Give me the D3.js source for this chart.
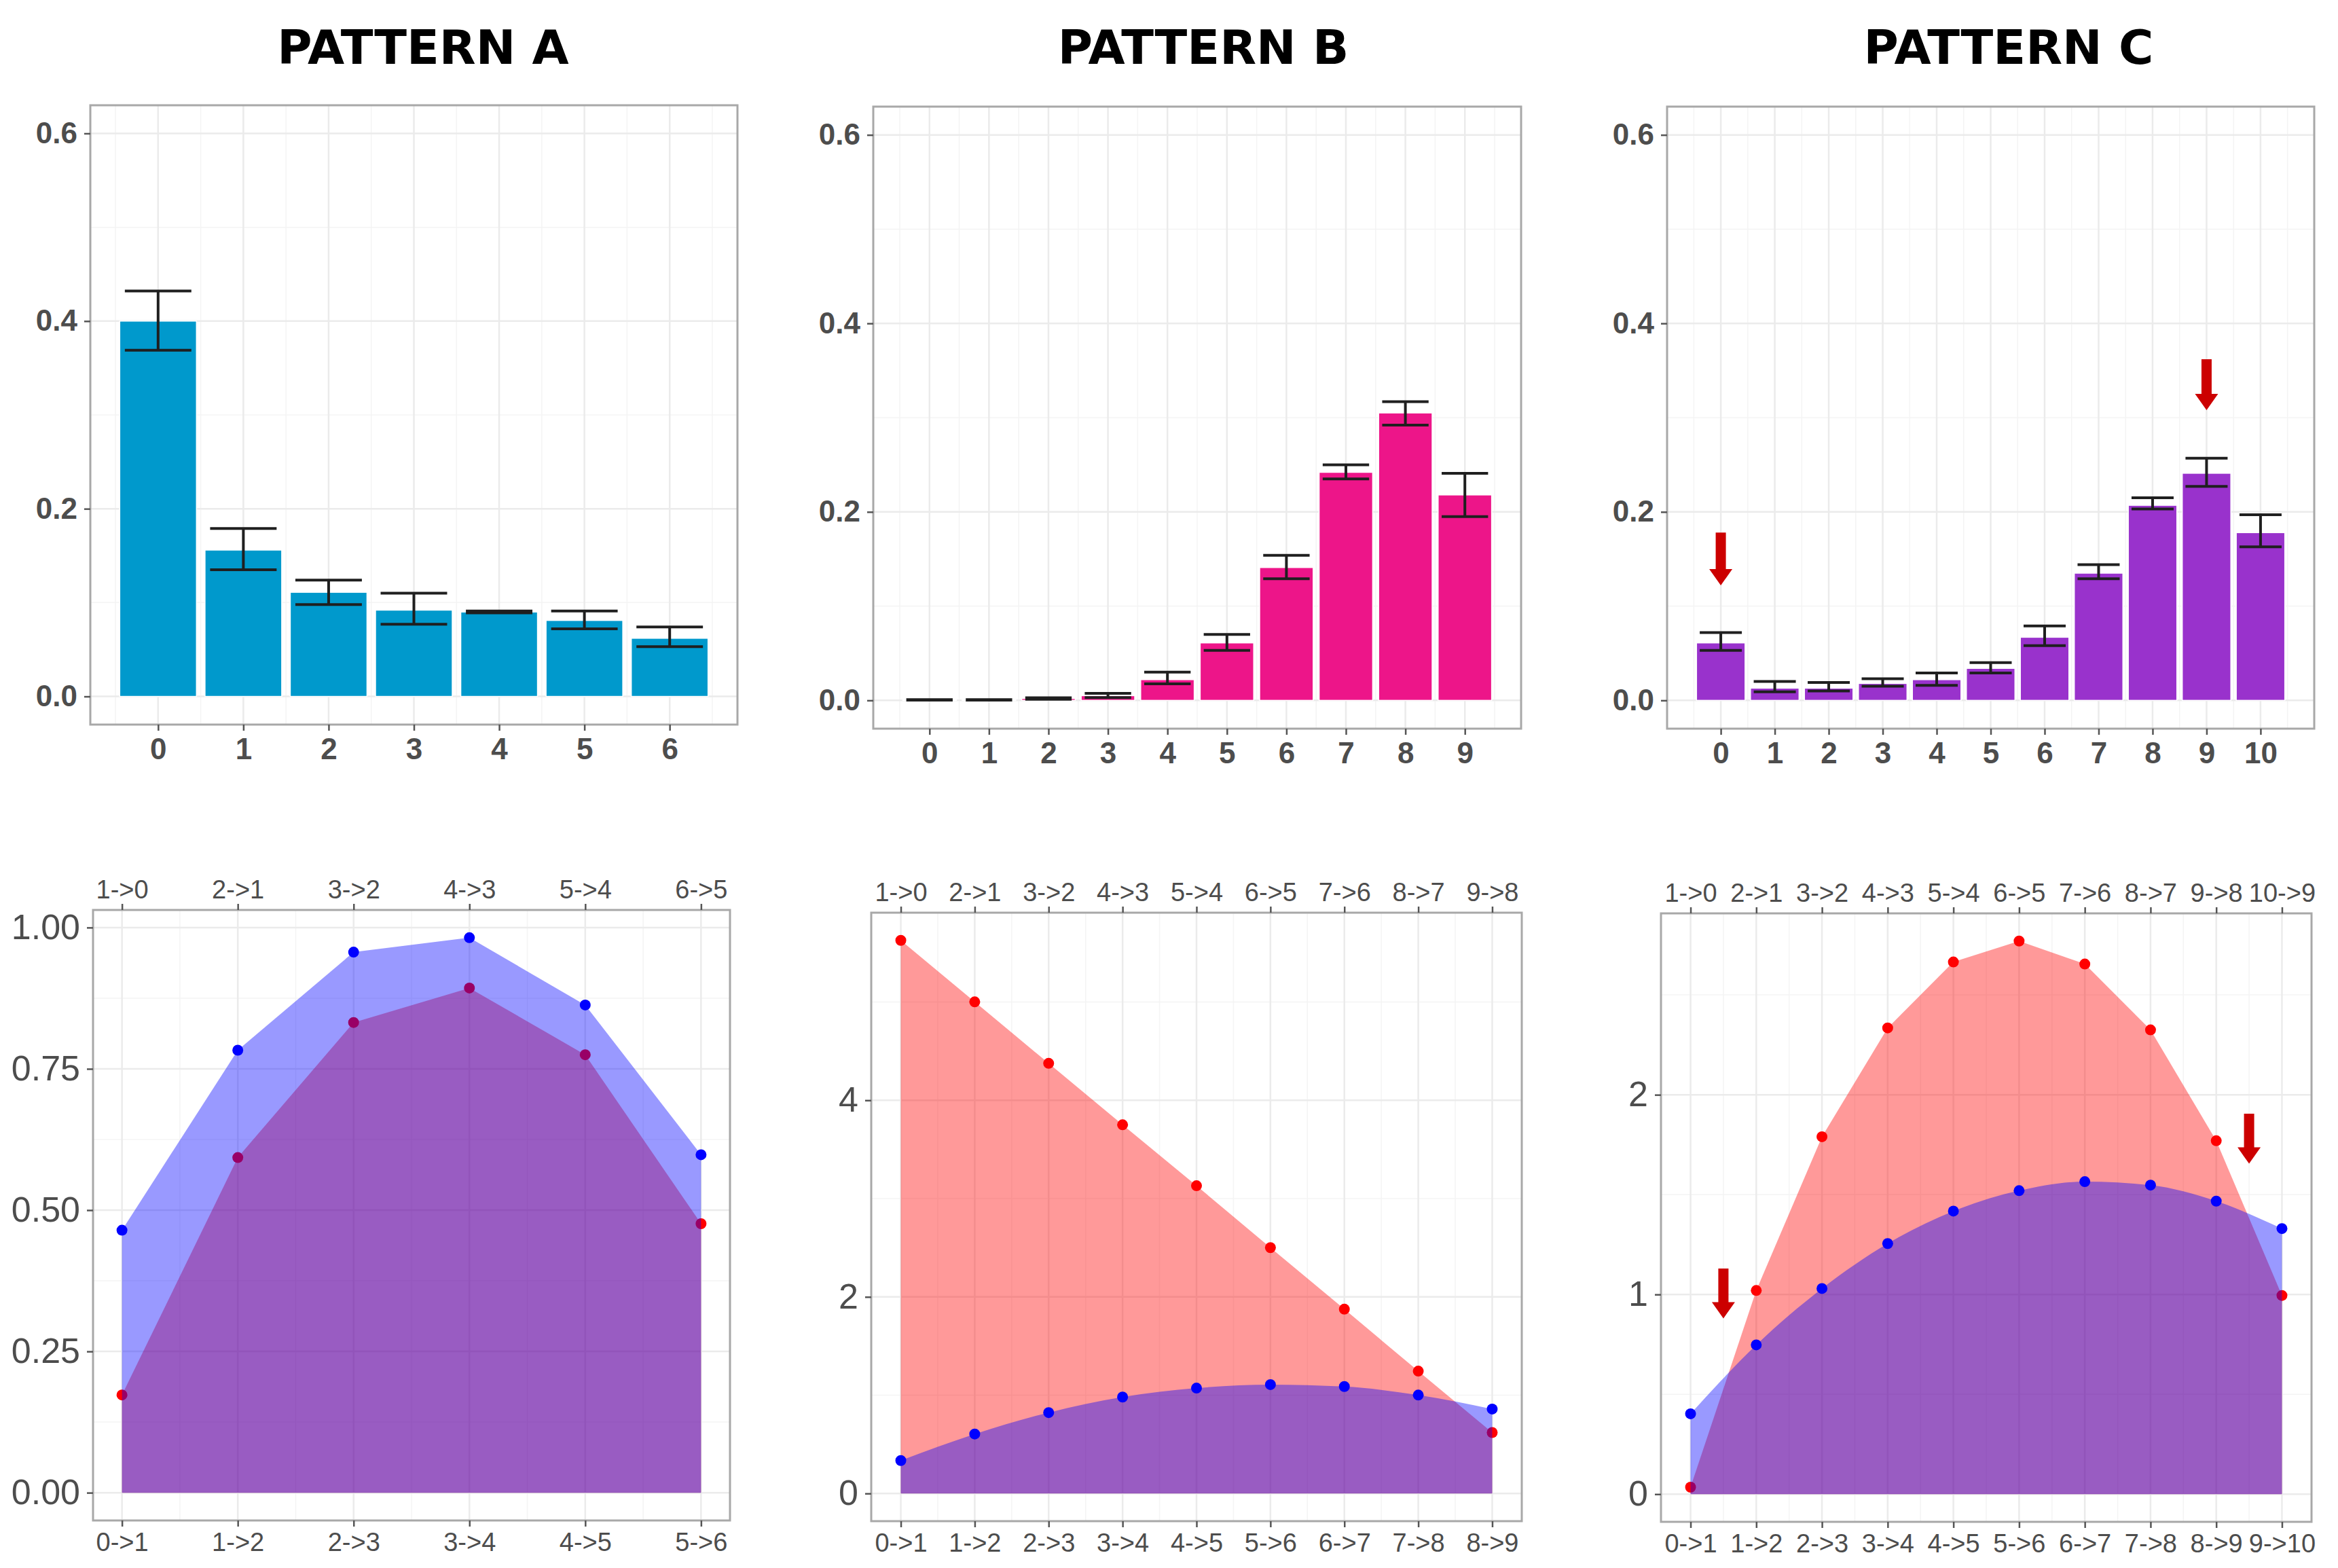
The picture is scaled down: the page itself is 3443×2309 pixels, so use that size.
<!DOCTYPE html>
<html><head><meta charset="utf-8">
<script src="https://cdn.jsdelivr.net/npm/d3@7"></script>
<style>body{margin:0;background:#fff}svg{display:block}</style>
</head><body>
<svg id="c" width="3443" height="2309"></svg>
<script>
// ---------- DATA ----------
const titles = ["PATTERN A", "PATTERN B", "PATTERN C"];

const catsA = [0, 1, 2, 3, 4, 5, 6];
const meanA = [0.400, 0.156, 0.111, 0.092, 0.090, 0.081, 0.062];
const loA   = [0.369, 0.135, 0.098, 0.077, 0.089, 0.072, 0.053];
const hiA   = [0.432, 0.179, 0.124, 0.110, 0.091, 0.091, 0.074];

const catsB = [0, 1, 2, 3, 4, 5, 6, 7, 8, 9];
const meanB = [0.0005, 0.0005, 0.002, 0.005, 0.022, 0.061, 0.141, 0.242, 0.305, 0.218];
const loB   = [0.0002, 0.0002, 0.0012, 0.003, 0.0175, 0.053, 0.129, 0.235, 0.292, 0.195];
const hiB   = [0.0008, 0.0008, 0.0028, 0.0074, 0.030, 0.070, 0.154, 0.250, 0.317, 0.241];

const catsC = [0, 1, 2, 3, 4, 5, 6, 7, 8, 9, 10];
const meanC = [0.061, 0.013, 0.013, 0.018, 0.022, 0.034, 0.067, 0.135, 0.207, 0.241, 0.178];
const loC   = [0.053, 0.009, 0.010, 0.015, 0.016, 0.029, 0.058, 0.129, 0.203, 0.227, 0.163];
const hiC   = [0.072, 0.020, 0.019, 0.023, 0.029, 0.040, 0.079, 0.144, 0.215, 0.257, 0.197];

const barYTicks = [0, 0.2, 0.4, 0.6];
const barYMinor = [0.1, 0.3, 0.5];

const topLabA = ["1->0", "2->1", "3->2", "4->3", "5->4", "6->5"];
const botLabA = ["0->1", "1->2", "2->3", "3->4", "4->5", "5->6"];
const redA  = [0.173, 0.593, 0.832, 0.893, 0.775, 0.476];
const blueA = [0.4645, 0.783, 0.9565, 0.982, 0.863, 0.598];

const topLabB = ["1->0", "2->1", "3->2", "4->3", "5->4", "6->5", "7->6", "8->7", "9->8"];
const botLabB = ["0->1", "1->2", "2->3", "3->4", "4->5", "5->6", "6->7", "7->8", "8->9"];
const redB  = [5.627, 5.001, 4.376, 3.751, 3.131, 2.501, 1.875, 1.245, 0.620];
const blueB = [0.335, 0.605, 0.823, 0.981, 1.072, 1.108, 1.088, 1.001, 0.859];

const topLabC = ["1->0", "2->1", "3->2", "4->3", "5->4", "6->5", "7->6", "8->7", "9->8", "10->9"];
const botLabC = ["0->1", "1->2", "2->3", "3->4", "4->5", "5->6", "6->7", "7->8", "8->9", "9->10"];
const redC  = [0.035, 1.02, 1.79, 2.335, 2.665, 2.77, 2.655, 2.325, 1.77, 0.995];
const blueC = [0.4025, 0.7475, 1.03, 1.255, 1.4175, 1.52, 1.565, 1.5475, 1.4675, 1.33];

const yTicksA = [0, 0.25, 0.5, 0.75, 1.0];
const yMinorA = [0.125, 0.375, 0.625, 0.875];
const yTicksB = [0, 2, 4];
const yMinorB = [1, 3, 5];
const yTicksC = [0, 1, 2];
const yMinorC = [0.5, 1.5, 2.5];

// annotation arrows (x position, top of shaft, tip) in data units
const arrowsTopC = [{x: 0, top: 0.178, tip: 0.122}, {x: 9, top: 0.362, tip: 0.308}];
const arrowsBotC = [{x: 0.5, top: 1.13, tip: 0.88}, {x: 8.5, top: 1.905, tip: 1.655}];

// ---------- LAYOUT / STYLE ----------
const topRects = [{l:133,t:155,r:1086,b:1067},{l:1286,t:157,r:2240,b:1073},{l:2455,t:157,r:3408,b:1073}];
const botRects = [{l:137,t:1340,r:1075,b:2239},{l:1283,t:1344,r:2241,b:2240},{l:2446,t:1345,r:3404,b:2241}];
const titleX = [623, 1772, 2958];
const barColors = ["#0099CC", "#ED1589", "#9932CC"];
const TXT = "#4D4D4D";
const BORDER = "#A8A8A8";
const GRID_MAJ = "#EBEBEB";
const GRID_MIN = "#F4F4F4";
const ARROW = "#CC0000";
const NARROW = "'Liberation Sans Narrow','Liberation Sans',Arial,sans-serif";

const svg = d3.select("#c");
svg.append("rect").attr("width",3443).attr("height",2309).attr("fill","#fff");

titles.forEach((t,i) => {
  svg.append("text").attr("x", titleX[i]).attr("y", 94)
    .attr("text-anchor","middle")
    .attr("font-family","'DejaVu Sans',sans-serif").attr("font-weight","bold")
    .attr("font-size",70).attr("fill","#000").text(t);
});

function drawGrid(g, x, y, w, h, xMaj, xMin, yMaj, yMin) {
  const gg = g.append("g");
  gg.selectAll(".xm").data(xMin).join("line")
    .attr("x1",d=>x(d)).attr("x2",d=>x(d)).attr("y1",0).attr("y2",h)
    .attr("stroke",GRID_MIN).attr("stroke-width",1.5);
  gg.selectAll(".ym").data(yMin).join("line")
    .attr("y1",d=>y(d)).attr("y2",d=>y(d)).attr("x1",0).attr("x2",w)
    .attr("stroke",GRID_MIN).attr("stroke-width",1.5);
  gg.selectAll(".xM").data(xMaj).join("line")
    .attr("x1",d=>x(d)).attr("x2",d=>x(d)).attr("y1",0).attr("y2",h)
    .attr("stroke",GRID_MAJ).attr("stroke-width",2.5);
  gg.selectAll(".yM").data(yMaj).join("line")
    .attr("y1",d=>y(d)).attr("y2",d=>y(d)).attr("x1",0).attr("x2",w)
    .attr("stroke",GRID_MAJ).attr("stroke-width",2.5);
}

function styleAxis(ax, font, size, weight) {
  ax.select(".domain").remove();
  ax.selectAll(".tick line").attr("stroke","#555").attr("stroke-width",2.5);
  ax.selectAll(".tick text").attr("fill",TXT).attr("font-family",font)
    .attr("font-size",size).attr("font-weight",weight);
}

function arrowPath(tx, ty, topY) {
  const sw = 7.5, hw = 17, hl = 24;
  return `M${tx-sw},${topY} L${tx+sw},${topY} L${tx+sw},${ty-hl} L${tx+hw},${ty-hl} L${tx},${ty} L${tx-hw},${ty-hl} L${tx-sw},${ty-hl} Z`;
}

function drawBars(rect, cats, mean, lo, hi, color, arrows) {
  const w = rect.r - rect.l, h = rect.b - rect.t;
  const g = svg.append("g").attr("transform",`translate(${rect.l},${rect.t})`);
  const a = d3.min(cats) - 0.45, b = d3.max(cats) + 0.45, pad = 0.05*(b-a);
  const x = d3.scaleLinear().domain([a-pad, b+pad]).range([0,w]);
  const y = d3.scaleLinear().domain([-0.03, 0.63]).range([h,0]);
  const xMin = d3.range(d3.min(cats)-0.5, d3.max(cats)+1, 1);
  drawGrid(g, x, y, w, h, cats, xMin, barYTicks, barYMinor);
  const data = cats.map((c,i)=>({c, m:mean[i], lo:lo[i], hi:hi[i]}));
  g.selectAll(".bar").data(data).join("rect")
    .attr("x",d=>x(d.c-0.45)).attr("width",d=>x(d.c+0.45)-x(d.c-0.45))
    .attr("y",d=>y(d.m)).attr("height",d=>y(0)-y(d.m))
    .attr("fill",color).attr("stroke","#fff").attr("stroke-width",1.5);
  g.selectAll(".eb").data(data).join("path")
    .attr("d",d=>{
      const x0=x(d.c-0.39), x1=x(d.c+0.39), xc=x(d.c);
      return `M${x0},${y(d.hi)}H${x1}M${x0},${y(d.lo)}H${x1}M${xc},${y(d.hi)}V${y(d.lo)}`;
    })
    .attr("fill","none").attr("stroke","#1f1f1f").attr("stroke-width",4);
  if (arrows) {
    g.selectAll(".arr").data(arrows).join("path")
      .attr("d",d=>arrowPath(x(d.x), y(d.tip), y(d.top))).attr("fill",ARROW);
  }
  g.append("rect").attr("width",w).attr("height",h).attr("fill","none")
    .attr("stroke",BORDER).attr("stroke-width",3);
  const ay = g.append("g").call(d3.axisLeft(y).tickValues(barYTicks)
    .tickFormat(d3.format(".1f")).tickSize(9).tickPadding(10));
  styleAxis(ay, "'Liberation Sans',Arial,sans-serif", 44, "bold");
  const ax = g.append("g").attr("transform",`translate(0,${h})`)
    .call(d3.axisBottom(x).tickValues(cats).tickFormat(d3.format("d")).tickSize(9).tickPadding(11));
  styleAxis(ax, "'Liberation Sans',Arial,sans-serif", 44, "bold");
}

function drawAreas(rect, red, blue, topLab, botLab, yTicks, yMinor, fmt, redCurve, blueCurve, arrows) {
  const w = rect.r - rect.l, h = rect.b - rect.t;
  const g = svg.append("g").attr("transform",`translate(${rect.l},${rect.t})`);
  const n = red.length;
  const idx = d3.range(n);
  const xpad = 0.05*(n-1);
  const x = d3.scaleLinear().domain([-xpad, n-1+xpad]).range([0,w]);
  const ymax = d3.max(red.concat(blue));
  const y = d3.scaleLinear().domain([-0.05*ymax, 1.05*ymax]).range([h,0]);
  const xMin = d3.range(0.5, n-1, 1);
  drawGrid(g, x, y, w, h, idx, xMin, yTicks, yMinor);
  const area = (vals, curve) => d3.area().curve(curve).x((d,i)=>x(i)).y0(y(0)).y1(d=>y(d))(vals);
  g.append("path").attr("d",area(red, redCurve)).attr("fill","#FF0000").attr("fill-opacity",0.4);
  g.selectAll(".rp").data(red).join("circle")
    .attr("cx",(d,i)=>x(i)).attr("cy",d=>y(d)).attr("r",8).attr("fill","#FF0000");
  g.append("path").attr("d",area(blue, blueCurve)).attr("fill","#0000FF").attr("fill-opacity",0.4);
  g.selectAll(".bp").data(blue).join("circle")
    .attr("cx",(d,i)=>x(i)).attr("cy",d=>y(d)).attr("r",8).attr("fill","#0000FF");
  if (arrows) {
    g.selectAll(".arr").data(arrows).join("path")
      .attr("d",d=>arrowPath(x(d.x), y(d.tip), y(d.top))).attr("fill",ARROW);
  }
  g.append("rect").attr("width",w).attr("height",h).attr("fill","none")
    .attr("stroke",BORDER).attr("stroke-width",3);
  const ay = g.append("g").call(d3.axisLeft(y).tickValues(yTicks)
    .tickFormat(d3.format(fmt)).tickSize(9).tickPadding(10));
  styleAxis(ay, NARROW, 52, "normal");
  const at = g.append("g").call(d3.axisTop(x).tickValues(idx)
    .tickFormat(i=>topLab[i]).tickSize(9).tickPadding(8));
  styleAxis(at, NARROW, 38, "normal");
  const ab = g.append("g").attr("transform",`translate(0,${h})`)
    .call(d3.axisBottom(x).tickValues(idx).tickFormat(i=>botLab[i]).tickSize(9).tickPadding(9));
  styleAxis(ab, NARROW, 38, "normal");
}

drawBars(topRects[0], catsA, meanA, loA, hiA, barColors[0], null);
drawBars(topRects[1], catsB, meanB, loB, hiB, barColors[1], null);
drawBars(topRects[2], catsC, meanC, loC, hiC, barColors[2], arrowsTopC);

drawAreas(botRects[0], redA, blueA, topLabA, botLabA, yTicksA, yMinorA, ".2f", d3.curveLinear, d3.curveLinear, null);
drawAreas(botRects[1], redB, blueB, topLabB, botLabB, yTicksB, yMinorB, "d", d3.curveLinear, d3.curveMonotoneX, null);
drawAreas(botRects[2], redC, blueC, topLabC, botLabC, yTicksC, yMinorC, "d", d3.curveLinear, d3.curveMonotoneX, arrowsBotC);
</script>
</body></html>
